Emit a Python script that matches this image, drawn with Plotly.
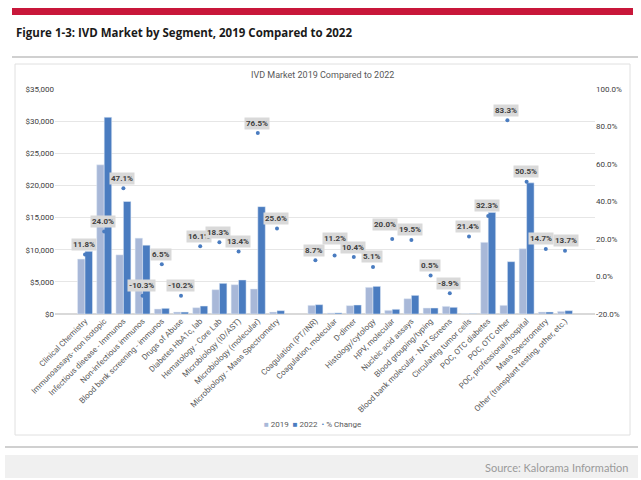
import plotly.graph_objects as go

categories = [
    "Clinical Chemistry", "Immunoassays- non isotopic", "Infectious disease - Immunos",
    "Non-infectious immunos", "Blood bank screening - immunos", "Drugs of Abuse",
    "Diabetes HbA1c, lab", "Hematology - Core Lab", "Microbiology (ID/AST)",
    "Microbiology (molecular)", "Microbiology - Mass Spectrometry", " ",
    "Coagulation (PT/INR)", "Coagulation, molecular", "D-dimer", "Histology/cytology",
    "HPV, molecular", "Nucleic acid assays", "Blood grouping/typing",
    "Blood bank molecular - NAT Screens", "Circulating tumor cells", "POC, OTC diabetes",
    "POC, OTC other", "POC, professional/hospital", "Mass Spectrometry",
    "Other (transplant testing, other, etc.)",
]
values_2019 = [8550, 23200, 9200, 11800, 780, 310, 980, 3780, 4560, 3890, 310, None,
               1350, 160, 1300, 4150, 570, 2380, 930, 1190, 50, 11150, 1350, 10160, 310, 410]
values_2022 = [9750, 30600, 17500, 10700, 880, 300, 1240, 4770, 5290, 16700, 520, None,
               1450, 170, 1400, 4300, 730, 2900, 930, 1040, 50, 15800, 8140, 20400, 310, 520]
pct_change = [11.8, 24.0, 47.1, -10.3, 6.5, -10.2, 16.1, 18.3, 13.4, 76.5, 25.6, None,
              8.7, 11.2, 10.4, 5.1, 20.0, 19.5, 0.5, -8.9, 21.4, 32.3, 83.3, 50.5, 14.7, 13.7]
left_ticks = [0, 5000, 10000, 15000, 20000, 25000, 30000, 35000]
right_ticks = [-20, 0, 20, 40, 60, 80, 100]

W, H = 641, 480
L, R, T, B = 55, 595, 89, 314


def px(x):
    return (x - L) / (R - L)


def py(y):
    return (B - y) / (B - T)


C19 = "#a8b8d8"
C22 = "#4a7cc0"
TXT = "#595959"
FONT = "Roboto"

fig = go.Figure()
fig.add_trace(go.Bar(x=categories, y=values_2019, name="2019", marker_color=C19))
fig.add_trace(go.Bar(x=categories, y=values_2022, name="2022", marker_color=C22))
fig.add_trace(go.Scatter(x=categories, y=pct_change, name="% Change", mode="markers",
                         yaxis="y2", marker=dict(color=C22, size=4)))

# label placement tweaks (pixel shifts) where callouts crowd each other
label_shift = {
    "Coagulation, molecular": (0, 17),
    "HPV, molecular": (-7, 15),
    "Mass Spectrometry": (-5, 10),
    "Other (transplant testing, other, etc.)": (1, 10),
}

annotations = []
for c, p in zip(categories, pct_change):
    if p is None:
        continue
    xs, ys = label_shift.get(c, (-1, 10))
    annotations.append(dict(
        x=c, y=p, xref="x", yref="y2", text=f"<b>{p:.1f}%</b>", showarrow=False,
        yshift=ys, xshift=xs, bgcolor="#d9d9d9", borderpad=1,
        font=dict(family=FONT, size=8, color="#404040")))

legend_text = (f"<span style='color:{C19}'>■</span> 2019  "
               f"<span style='color:{C22}'>■</span> 2022  "
               f"<span style='color:{C22}'>•</span> % Change")

annotations += [
    dict(x=px(14), y=py(33), xref="paper", yref="paper", xanchor="left", yanchor="middle",
         text="<b>Figure 1-3: IVD Market by Segment, 2019 Compared to 2022</b>", showarrow=False,
         font=dict(family="Open Sans", size=11.5, color="#1a1a1a")),
    dict(x=px(322), y=py(75), xref="paper", yref="paper", xanchor="center", yanchor="middle",
         text="IVD Market 2019 Compared to 2022", showarrow=False,
         font=dict(family=FONT, size=9, color=TXT)),
    dict(x=px(630), y=py(467), xref="paper", yref="paper", xanchor="right", yanchor="middle",
         text="Source: Kalorama Information", showarrow=False,
         font=dict(family="Lato", size=11, color="#9a9a9a")),
    dict(x=px(312), y=py(424), xref="paper", yref="paper", xanchor="center", yanchor="middle",
         text=legend_text, showarrow=False, font=dict(family=FONT, size=8, color=TXT)),
]

shapes = [
    dict(type="rect", xref="paper", yref="paper", x0=px(12), x1=px(633), y0=py(8), y1=py(15),
         fillcolor="#c8173a", line=dict(width=0), layer="below"),
    dict(type="line", xref="paper", yref="paper", x0=px(12), x1=px(638), y0=py(57), y1=py(57),
         line=dict(color="#c0c0c0", width=1.5)),
    dict(type="rect", xref="paper", yref="paper", x0=px(15), x1=px(630), y0=py(64), y1=py(435),
         line=dict(color="#e0e0e0", width=1), layer="below"),
    dict(type="line", xref="paper", yref="paper", x0=px(5), x1=px(638), y0=py(447), y1=py(447),
         line=dict(color="#d0d0d0", width=2)),
    dict(type="rect", xref="paper", yref="paper", x0=px(5), x1=px(638), y0=py(455), y1=py(478),
         fillcolor="#f0f0f0", line=dict(width=0), layer="below"),
]

fig.update_layout(
    width=W, height=H, margin=dict(l=L, r=W - R, t=T, b=H - B),
    paper_bgcolor="white", plot_bgcolor="white",
    barmode="group", bargap=0.22, bargroupgap=0,
    font=dict(family=FONT, size=8, color=TXT),
    showlegend=False,
    xaxis=dict(type="category", tickangle=-45, tickfont=dict(size=8, color=TXT),
               showline=False, ticks="", showgrid=False),
    yaxis=dict(range=[0, 35000], tickvals=left_ticks, tickformat="$,.0f",
               showgrid=True, gridcolor="#e6e6e6", zeroline=True, zerolinecolor="#d9d9d9",
               tickfont=dict(size=8, color="#404040"), ticks="", ticklen=0),
    yaxis2=dict(range=[-20, 100], tickvals=right_ticks,
                ticktext=[f"{v:.1f}%" for v in right_ticks],
                overlaying="y", side="right", showgrid=False, zeroline=False,
                tickfont=dict(size=8, color="#404040")),
    annotations=annotations, shapes=shapes,
)

fig.write_html("out.html", config={"displayModeBar": False},
               post_script="document.body.style.margin='0';")
